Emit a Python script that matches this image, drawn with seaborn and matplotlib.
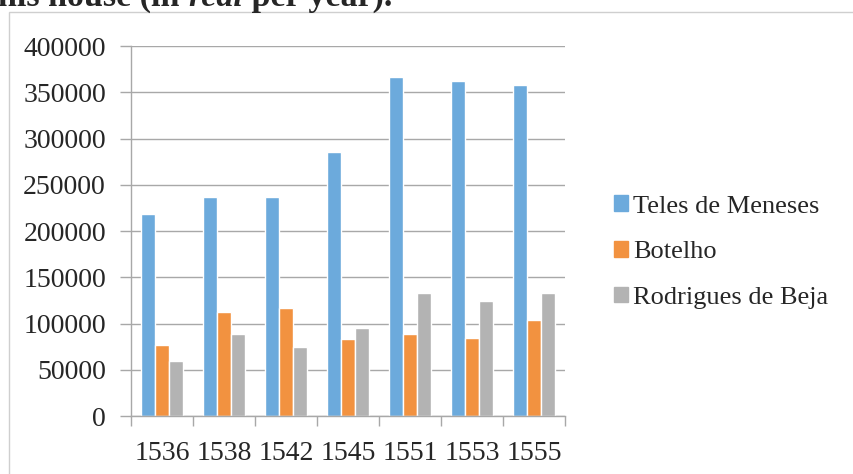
import pandas as pd
import matplotlib
matplotlib.use("Agg")
import matplotlib.pyplot as plt
import matplotlib.patches as mpatches
import seaborn as sns

# Data (real per year)
years = ["1536", "1538", "1542", "1545", "1551", "1553", "1555"]
teles = [218000, 237000, 237000, 285000, 366000, 362000, 358000]
botelho = [77000, 112000, 117000, 83000, 89000, 84000, 104000]
rodrigues = [60000, 89000, 75000, 95000, 133000, 124000, 133000]
series = ["Teles de Meneses", "Botelho", "Rodrigues de Beja"]
colors = ["#6CAADC", "#F29240", "#B3B3B3"]

# long-form table for seaborn
df = pd.DataFrame({
    "year": years * 3,
    "value": teles + botelho + rodrigues,
    "who": [s for s in series for _ in years],
})

sns.set_style("white")
plt.rcParams["font.family"] = ["Liberation Serif", "DejaVu Serif"]

fig = plt.figure(figsize=(8.54, 4.74), dpi=100)
ax = fig.add_axes([131 / 854, 1 - 416 / 474, (565 - 131) / 854, (416 - 46) / 474])

sns.barplot(data=df, x="year", y="value", hue="who", hue_order=series,
            palette=colors, width=2 / 3, saturation=1, ax=ax, legend=True)

ax.set_ylim(0, 400000)
ax.set_xlim(-0.5, len(years) - 0.5)
ax.set_yticks(range(0, 400001, 50000))
ax.set_xlabel("")
ax.set_ylabel("")
ax.yaxis.grid(True, color="#a8a8a8", lw=1)
ax.set_axisbelow(True)
for s in ["top", "right"]:
    ax.spines[s].set_visible(False)
for s in ["left", "bottom"]:
    ax.spines[s].set_color("#a8a8a8")
    ax.spines[s].set_linewidth(1)

# category-boundary ticks on x, outward ticks on y
ax.set_xticks([i - 0.5 for i in range(len(years) + 1)], minor=False)
ax.set_xticklabels([""] * (len(years) + 1))
ax.set_xticks(range(len(years)), minor=True)
ax.set_xticklabels(years, minor=True)
ax.tick_params(axis="x", which="major", direction="out", length=7, width=1,
               color="#a8a8a8", bottom=True)
ax.tick_params(axis="x", which="minor", length=0, pad=18, labelsize=20)
ax.tick_params(axis="y", direction="out", length=8, width=1, color="#a8a8a8",
               left=True, pad=10, labelsize=20)

handles = [mpatches.Patch(color=c, label=s) for c, s in zip(colors, series)]
ax.legend(handles=handles, loc="center left", bbox_to_anchor=(1.113, 0.443),
          frameon=False, fontsize=19, handlelength=0.53, handleheight=0.53,
          handletextpad=0.18, labelspacing=0.89, borderaxespad=0, borderpad=0)

# chart frame and clipped caption line from the surrounding document
fig.patches.append(mpatches.Rectangle((9 / 854, -0.1), 1.2, 1 - 12 / 474 + 0.1,
                                      transform=fig.transFigure, fill=False,
                                      edgecolor="#cfcfcf", lw=1, clip_on=False))
base = 1 - 6 / 474
t1 = fig.text(-0.002, base, "his house (in ", fontsize=24.5,
              fontweight="bold", va="baseline", ha="left")
fig.canvas.draw()
bb = t1.get_window_extent()
t2 = fig.text(bb.x1 / 854, base, "real", fontsize=24.5, style="italic",
              fontweight="bold", va="baseline", ha="left")
fig.canvas.draw()
bb = t2.get_window_extent()
fig.text(bb.x1 / 854, base, " per year).", fontsize=24.5,
         fontweight="bold", va="baseline", ha="left")

fig.savefig("out.png", dpi=100)
